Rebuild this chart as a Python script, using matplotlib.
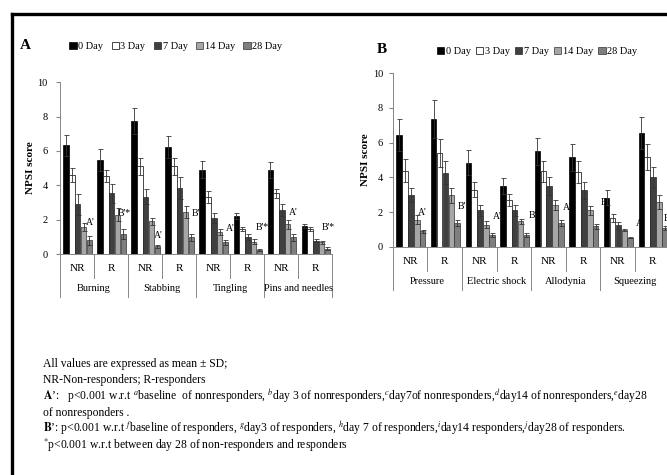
import numpy as np
import matplotlib.pyplot as plt
from matplotlib.patches import Patch
from matplotlib.lines import Line2D

plt.rcParams['font.family'] = ['Liberation Serif', 'DejaVu Serif']
plt.rcParams['mathtext.fontset'] = 'stix'

days = ["0 Day", "3 Day", "7 Day", "14 Day", "28 Day"]
groups = ["NR", "R"] * 4
cats_a = ["Burning", "Stabbing", "Tingling", "Pins and needles"]
cats_b = ["Pressure", "Electric shock", "Allodynia", "Squeezing"]

# panel A: one list per day, 8 groups (NR, R for each symptom)
a_d0 = [6.33, 5.46, 7.74, 6.24, 4.92, 2.24, 4.88, 1.64]
a_d3 = [4.60, 4.55, 5.10, 5.10, 3.34, 1.47, 3.53, 1.45]
a_d7 = [2.90, 3.53, 3.34, 3.86, 2.12, 0.98, 2.57, 0.79]
a_d14 = [1.60, 2.30, 1.90, 2.47, 1.31, 0.73, 1.74, 0.70]
a_d28 = [0.80, 1.18, 0.45, 0.98, 0.68, 0.25, 0.98, 0.31]
a_sd0 = [0.62, 0.64, 0.76, 0.63, 0.48, 0.17, 0.45, 0.12]
a_sd3 = [0.40, 0.35, 0.50, 0.50, 0.35, 0.13, 0.25, 0.11]
a_sd7 = [0.60, 0.54, 0.42, 0.64, 0.29, 0.18, 0.35, 0.11]
a_sd14 = [0.23, 0.40, 0.22, 0.35, 0.18, 0.14, 0.25, 0.09]
a_sd28 = [0.26, 0.29, 0.09, 0.20, 0.15, 0.04, 0.20, 0.08]

# panel B
b_d0 = [6.46, 7.38, 4.85, 3.50, 5.50, 5.17, 2.84, 6.55]
b_d3 = [4.40, 5.42, 3.30, 2.70, 4.35, 4.31, 1.67, 5.17]
b_d7 = [3.00, 4.27, 2.10, 2.10, 3.50, 3.26, 1.25, 4.00]
b_d14 = [1.57, 2.97, 1.28, 1.48, 2.39, 2.10, 0.96, 2.60]
b_d28 = [0.90, 1.40, 0.71, 0.71, 1.40, 1.19, 0.54, 1.10]
b_sd0 = [0.92, 1.09, 0.71, 0.47, 0.78, 0.77, 0.42, 0.90]
b_sd3 = [0.68, 0.81, 0.44, 0.37, 0.59, 0.61, 0.25, 0.73]
b_sd7 = [0.40, 0.65, 0.29, 0.33, 0.52, 0.48, 0.19, 0.60]
b_sd14 = [0.25, 0.42, 0.20, 0.15, 0.29, 0.26, 0.06, 0.40]
b_sd28 = [0.10, 0.17, 0.11, 0.11, 0.17, 0.15, 0.03, 0.12]

# significance marks
a_marks = ["A'", "B'*", "A'", "B'", "A'", "B'*", "A'", "B'*"]
a_mark_y = [1.57, 2.1, 0.8, 2.1, 1.2, 1.3, 2.15, 1.3]
a_mark_x = [0.88, 0.88, 0.9, 0.98, 1.0, 0.94, 0.85, 0.88]
b_marks = ["A'", "B'", "A'", "B'", "A'", "B'", "A'", "B'"]
b_mark_y = [1.75, 2.05, 1.5, 1.55, 2.0, 2.3, 1.1, 1.4]
b_mark_x = [0.86, 1.0, 1.03, 1.05, 1.05, 1.12, 1.15, 0.95]

colors = ["#000000", "#ffffff", "#404040", "#a6a6a6", "#7f7f7f"]
edges = ["#000000", "#000000", "#262626", "#333333", "#333333"]
axis_gray = "#868686"

fig = plt.figure(figsize=(6.67, 4.75), dpi=100)


def panel(rect, series, sds, cats, marks, mark_x, mark_y, label, label_xy,
          leg_xy, pad, colsp):
    ax = fig.add_axes(rect)
    x = np.arange(8)
    off = [-0.34, -0.17, 0, 0.17, 0.34]
    for i in range(5):
        ax.bar(x + 0.52 + off[i], series[i], width=0.16, color=colors[i],
               edgecolor=edges[i], linewidth=0.5, zorder=3)
        ax.errorbar(x + 0.52 + off[i], series[i], yerr=sds[i], fmt="none",
                    ecolor="#333333", elinewidth=0.6, capsize=1.8,
                    capthick=0.6, zorder=4)
    for i in range(8):
        ax.text(i + mark_x[i], mark_y[i], marks[i], fontsize=7,
                ha="center", va="bottom", zorder=2)
    ax.set_xlim(0, 8)
    ax.set_ylim(0, 10)
    ax.set_yticks([0, 2, 4, 6, 8, 10])
    ax.tick_params(axis="y", labelsize=7.5, length=3, color=axis_gray, pad=pad)
    ax.set_xticks([])
    for s in ["top", "right", "bottom"]:
        ax.spines[s].set_visible(False)
    ax.spines["left"].set_color(axis_gray)
    ax.spines["left"].set_linewidth(0.7)
    ax.axhline(0, color=axis_gray, lw=0.7, zorder=5, clip_on=False)
    tr = ax.get_xaxis_transform()
    for i in range(9):
        bottom = -0.25 if i % 2 == 0 else -0.14
        ax.plot([i, i], [0, bottom], color=axis_gray, lw=0.7,
                transform=tr, clip_on=False)
    for i in range(8):
        ax.text(i + 0.5, -0.085, groups[i], transform=tr, ha="center",
                va="center", fontsize=8)
    for i in range(4):
        ax.text(2 * i + 1, -0.2, cats[i], transform=tr, ha="center",
                va="center", fontsize=7.5)
    ax.set_ylabel("NPSI score", fontsize=8, fontweight="bold", labelpad=2)
    fig.text(label_xy[0], label_xy[1], label, fontsize=11, fontweight="bold",
             ha="left", va="center")
    handles = [Patch(facecolor=colors[i], edgecolor=edges[i], linewidth=0.5)
               for i in range(5)]
    fig.legend(handles, days, loc="center left", bbox_to_anchor=leg_xy,
               ncol=5, frameon=False, fontsize=7.5, handlelength=0.7,
               handleheight=0.7, handletextpad=0.15, columnspacing=colsp,
               borderaxespad=0, borderpad=0)
    return ax


panel([0.09, 0.465, 0.408, 0.362],
      [a_d0, a_d3, a_d7, a_d14, a_d28], [a_sd0, a_sd3, a_sd7, a_sd14, a_sd28],
      cats_a, a_marks, a_mark_x, a_mark_y, "A", (0.03, 0.905), (0.104, 0.902),
      6, 0.8)
panel([0.589, 0.48, 0.415, 0.366],
      [b_d0, b_d3, b_d7, b_d14, b_d28], [b_sd0, b_sd3, b_sd7, b_sd14, b_sd28],
      cats_b, b_marks, b_mark_x, b_mark_y, "B", (0.565, 0.895), (0.655, 0.891),
      4, 0.5)

# footnote
notes = [
    "All values are expressed as mean \u00b1 SD;",
    "NR-Non-responders; R-responders",
    r"$\mathbf{A}$\u2019:   p<0.001 w.r.t $^{a}$baseline  of nonresponders, $^{b}$day 3 of nonresponders,$^{c}$day7of nonresponders,$^{d}$day14 of nonresponders,$^{e}$day28",
    "of nonresponders .",
    r"$\mathbf{B}$\u2019: p<0.001 w.r.t $^{f}$baseline of responders, $^{g}$day3 of responders, $^{h}$day 7 of responders,$^{i}$day14 responders,$^{j}$day28 of responders.",
    r"$^{*}$p<0.001 w.r.t between day 28 of non-responders and responders",
]
note_y = [364, 380, 397, 413, 429, 445]
for t, yy in zip(notes, note_y):
    t = t.replace("\\u2019", "\u2019")
    fig.text(43 / 667, 1 - yy / 475, t, fontsize=8.4, ha="left", va="center")

# frame of the original figure (cut at right and bottom)
fig.add_artist(Line2D([11.5 / 667, 1], [1 - 13.5 / 475] * 2, color="black",
                      lw=2.4, transform=fig.transFigure))
fig.add_artist(Line2D([11.5 / 667] * 2, [0, 1 - 13.5 / 475], color="black",
                      lw=2.4, transform=fig.transFigure))

fig.savefig("out.png", dpi=100)
